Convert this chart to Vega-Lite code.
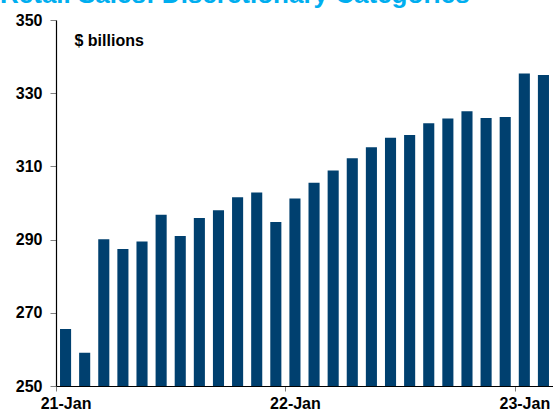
{
  "$schema": "https://vega.github.io/schema/vega-lite/v6.json",
  "width": 497,
  "height": 366,
  "autosize": "none",
  "padding": {"left": 56, "top": 20, "right": 0, "bottom": 25},
  "background": "white",
  "title": {
    "text": "Retail Sales: Discretionary Categories",
    "anchor": "start",
    "frame": "group",
    "dx": -56,
    "dy": 16.5,
    "baseline": "alphabetic",
    "offset": 0,
    "font": "Liberation Sans",
    "fontSize": 26,
    "fontWeight": "bold",
    "color": "#00AEEF"
  },
  "data": {
    "values": [
      {"date": "2021-01", "sales": 265.6},
      {"date": "2021-02", "sales": 259.1},
      {"date": "2021-03", "sales": 290.1},
      {"date": "2021-04", "sales": 287.4},
      {"date": "2021-05", "sales": 289.5},
      {"date": "2021-06", "sales": 296.8},
      {"date": "2021-07", "sales": 291.0},
      {"date": "2021-08", "sales": 295.9},
      {"date": "2021-09", "sales": 298.0},
      {"date": "2021-10", "sales": 301.6},
      {"date": "2021-11", "sales": 302.9},
      {"date": "2021-12", "sales": 294.8},
      {"date": "2022-01", "sales": 301.2},
      {"date": "2022-02", "sales": 305.5},
      {"date": "2022-03", "sales": 308.9},
      {"date": "2022-04", "sales": 312.2},
      {"date": "2022-05", "sales": 315.2},
      {"date": "2022-06", "sales": 317.8},
      {"date": "2022-07", "sales": 318.6},
      {"date": "2022-08", "sales": 321.8},
      {"date": "2022-09", "sales": 323.1},
      {"date": "2022-10", "sales": 325.1},
      {"date": "2022-11", "sales": 323.2},
      {"date": "2022-12", "sales": 323.5},
      {"date": "2023-01", "sales": 335.4},
      {"date": "2023-02", "sales": 335.0}
    ]
  },
  "mark": {"type": "bar", "color": "#00406F", "width": {"band": 0.58}, "clip": true},
  "encoding": {
    "x": {
      "field": "date",
      "type": "ordinal",
      "sort": null,
      "scale": {"paddingInner": 0, "paddingOuter": 0},
      "axis": {
        "title": null,
        "labelExpr": "slice(datum.value, 5, 7) == '01' ? slice(datum.value, 2, 4) + '-Jan' : ''",
        "labelAngle": 0,
        "tickOffset": -9.56,
        "labelOffset": 9.56,
        "labelFont": "Liberation Sans",
        "labelFontSize": 16,
        "labelFontWeight": "bold",
        "labelColor": "#000000",
        "labelPadding": 4,
        "labelOverlap": false,
        "labelBound": false,
        "labelFlush": false,
        "tickSize": 5,
        "tickColor": "#808080",
        "tickOpacity": {"condition": {"test": "slice(datum.value, 5, 7) == '01'", "value": 1}, "value": 0},
        "domainColor": "#000000",
        "domainWidth": 1.2
      }
    },
    "y": {
      "field": "sales",
      "type": "quantitative",
      "scale": {"domain": [250, 350], "nice": false, "zero": false},
      "axis": {
        "values": [250, 270, 290, 310, 330, 350],
        "grid": false,
        "title": "$ billions",
        "titleAngle": 0,
        "titleX": 18,
        "titleY": 25,
        "titleAlign": "left",
        "titleBaseline": "alphabetic",
        "titleFont": "Liberation Sans",
        "titleFontSize": 16,
        "titleFontWeight": "bold",
        "titleColor": "#000000",
        "labelFont": "Liberation Sans",
        "labelFontSize": 16,
        "labelFontWeight": "bold",
        "labelColor": "#000000",
        "labelPadding": 8,
        "tickSize": 6,
        "tickColor": "#808080",
        "domainColor": "#000000",
        "domainWidth": 1.2
      }
    }
  },
  "config": {"view": {"stroke": null}}
}
